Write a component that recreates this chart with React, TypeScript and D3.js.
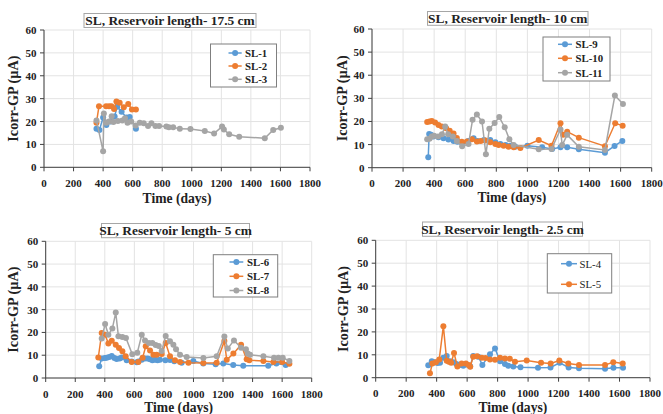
import React from "react";
import * as d3 from "d3";

type Pt = [number, number];

const xTicks = [0, 200, 400, 600, 800, 1000, 1200, 1400, 1600, 1800];
const yTicks = [0, 10, 20, 30, 40, 50, 60];

const titles = [
  "SL, Reservoir length- 17.5 cm",
  "SL, Reservoir length- 10 cm",
  "SL, Reservoir length- 5 cm",
  "SL, Reservoir length- 2.5 cm",
];

const SL1: Pt[] = [[355,16.8],[375,16.3],[400,21.8],[422,18.5],[450,20],[478,22.2],[495,26.5],[525,24.3],[558,21.8],[580,22],[622,16.8]];
const SL2: Pt[] = [[355,19.5],[372,26.7],[420,26.7],[440,26.7],[456,26.7],[474,25.5],[490,28.8],[512,28.2],[540,26.2],[570,27.7],[595,25.3],[622,25.3]];
const SL3: Pt[] = [[355,20.5],[400,7],[405,23.5],[422,19.5],[440,20],[458,22.3],[470,19.8],[500,20.2],[530,20.5],[548,21.4],[565,19.5],[590,20],[620,18.3],[648,19.5],[675,19.3],[704,18],[727,19.3],[754,18],[779,18],[828,17.8],[845,17.5],[874,17.5],[919,16.8],[991,16.7],[1088,15.9],[1151,14.8],[1205,17.8],[1217,16.5],[1253,14.4],[1321,13.4],[1494,12.7],[1551,16.3],[1603,17.3]];

const SL9: Pt[] = [[362,4.5],[368,14.6],[380,14.2],[395,13.5],[428,13.2],[460,12.7],[492,12.2],[525,11.6],[550,11.2],[580,10.8],[620,11.5],[654,12.7],[680,11.5],[720,12],[761,12],[794,11],[826,10.2],[860,9.8],[890,9.5],[922,9.1],[1000,9.5],[1095,8.8],[1159,8.1],[1213,8.8],[1256,8.8],[1331,8],[1499,6.5],[1561,9.4],[1611,11.6]];
const SL10: Pt[] = [[355,19.8],[370,20],[385,20.2],[406,19.5],[428,18.5],[449,17.8],[477,17.1],[500,16],[525,14.8],[546,12.8],[578,11.2],[611,11.3],[643,12.3],[675,11.3],[700,11.5],[730,11.8],[761,11],[794,10.3],[815,9.8],[847,9.5],[879,9.1],[912,8.8],[955,8.5],[1073,12],[1155,9.5],[1213,19.2],[1230,14.2],[1256,15.6],[1331,13],[1499,9.3],[1565,19.2],[1613,18.2]];
const SL11: Pt[] = [[355,12.3],[370,12.5],[385,13.5],[400,13.8],[425,13.5],[450,14.5],[471,17.8],[490,14.5],[520,13.5],[546,11.5],[580,9.3],[621,10.2],[647,20.7],[675,23],[708,20],[733,5.8],[755,16.8],[789,19.3],[819,21.9],[854,17.5],[884,12.3],[912,9.8],[1073,8],[1155,8.1],[1213,16.5],[1224,9.8],[1256,14.2],[1331,9.1],[1499,7.7],[1563,31.2],[1615,27.6]];

const SL6: Pt[] = [[362,5.2],[379,8.6],[400,8.8],[413,8.9],[430,9.2],[447,9.7],[465,8.8],[480,8.3],[500,8.6],[514,9],[548,7.8],[582,7.2],[616,6.9],[627,7.2],[650,8],[672,8.6],[690,8.6],[706,8.2],[722,7.8],[740,8],[757,7.8],[773,8],[810,7.8],[841,7.9],[870,7.3],[920,6.7],[999,7.5],[1066,6.4],[1150,6],[1202,6.4],[1269,5.7],[1337,5.4],[1506,5.4],[1561,6.4],[1624,5.7]];
const SL7: Pt[] = [[356,9],[379,19.8],[402,19],[424,15.1],[447,16.3],[474,14.6],[496,13.2],[519,11.7],[541,9.5],[582,7],[627,7],[656,8.9],[677,13.9],[706,12.1],[729,10.2],[751,10.2],[785,10.5],[812,15.4],[841,9.5],[875,7.8],[909,7],[966,6.7],[1067,6.6],[1157,6.7],[1209,16.2],[1225,8],[1270,10.7],[1322,14.6],[1360,8.2],[1378,7.8],[1473,7.5],[1541,7],[1600,7],[1649,6.3]];
const SL8: Pt[] = [[379,17.3],[402,23.7],[424,19],[451,21.7],[474,28.7],[492,18.3],[519,18],[543,17.6],[586,10.4],[620,11.1],[650,19],[672,16.5],[699,15.4],[722,15.4],[744,14.5],[765,14],[785,11.9],[812,18.4],[841,16.1],[864,14.6],[882,12.6],[909,10.2],[954,9.2],[1067,8.8],[1157,9.5],[1209,18.2],[1232,12.9],[1274,16.5],[1322,13.3],[1355,12.6],[1367,10.7],[1383,10.2],[1473,9.5],[1545,8.9],[1575,8.9],[1604,8.9],[1649,7.5]];

const SL4: Pt[] = [[345,5.4],[368,7.2],[385,6.8],[405,6.4],[422,6.5],[444,8.7],[466,9.5],[488,7.2],[510,6.8],[530,6],[553,5.5],[575,5.2],[597,5.8],[620,5],[640,9.5],[673,9.2],[700,5.6],[750,10.2],[783,12.8],[816,7.2],[848,6],[870,5.2],[903,4.9],[950,4.6],[1065,4.3],[1147,4.5],[1207,6.5],[1266,4.5],[1334,4.1],[1505,3.9],[1560,4.3],[1623,4.3]];
const SL5: Pt[] = [[356,1.9],[372,6.2],[395,6.8],[417,8],[444,22.5],[466,7.4],[480,7],[495,6.5],[514,10.8],[536,4.9],[564,6.2],[592,6.2],[610,5.5],[620,4.8],[640,9.2],[665,9.4],[696,8.7],[720,8.6],[750,8],[783,7.8],[816,8.7],[848,8.4],[880,8.3],[914,7],[991,7.5],[1085,6.5],[1148,6.2],[1205,7.5],[1264,6.2],[1334,5.6],[1505,5.5],[1559,6.8],[1621,6.2]];

const BLUE = "#5B9BD5";
const ORANGE = "#ED7D31";
const GRAY = "#A5A5A5";
const FONT = "'Liberation Serif', 'Times New Roman', serif";

interface Series { name: string; data: Pt[]; color: string }
interface Cfg {
  title: string;
  x0: number; x1: number; yTop: number; yBot: number;
  tb: [number, number, number, number];
  lg: [number, number, number, number];
  rows: number[]; lx0: number; lx1: number; tx: number; lgBold: boolean;
  yLabelX: number; xLabelY: number;
  series: Series[];
}

const panels: Cfg[] = [
  {
    title: titles[0], x0: 44, x1: 310, yTop: 30, yBot: 167.3,
    tb: [84, 13.5, 172, 14], lg: [210.5, 44, 66, 43], rows: [53, 66, 79.3],
    lx0: 228.5, lx1: 241.7, tx: 245, lgBold: true, yLabelX: 13, xLabelY: 198,
    series: [
      { name: "SL-1", data: SL1, color: BLUE },
      { name: "SL-2", data: SL2, color: ORANGE },
      { name: "SL-3", data: SL3, color: GRAY },
    ],
  },
  {
    title: titles[1], x0: 372, x1: 651.7, yTop: 29, yBot: 167.7,
    tb: [427.5, 11.5, 160.5, 13.8], lg: [543, 37, 67, 44], rows: [44.3, 58.3, 72.7],
    lx0: 558, lx1: 572, tx: 575.5, lgBold: true, yLabelX: 342.5, xLabelY: 196.7,
    series: [
      { name: "SL-9", data: SL9, color: BLUE },
      { name: "SL-10", data: SL10, color: ORANGE },
      { name: "SL-11", data: SL11, color: GRAY },
    ],
  },
  {
    title: titles[2], x0: 45.7, x1: 311.7, yTop: 241.3, yBot: 378,
    tb: [101.5, 223.5, 148, 14.2], lg: [213.3, 254.7, 64.4, 42.3], rows: [262, 276.3, 290.5],
    lx0: 229.5, lx1: 243.3, tx: 247, lgBold: true, yLabelX: 13.3, xLabelY: 407,
    series: [
      { name: "SL-6", data: SL6, color: BLUE },
      { name: "SL-7", data: SL7, color: ORANGE },
      { name: "SL-8", data: SL8, color: GRAY },
    ],
  },
  {
    title: titles[3], x0: 375.7, x1: 650, yTop: 240.3, yBot: 377.7,
    tb: [422.5, 222, 160, 14.3], lg: [547.3, 253.7, 64.4, 39.3], rows: [263.7, 284.3],
    lx0: 561, lx1: 577, tx: 579.5, lgBold: false, yLabelX: 343.3, xLabelY: 407,
    series: [
      { name: "SL-4", data: SL4, color: BLUE },
      { name: "SL-5", data: SL5, color: ORANGE },
    ],
  },
];

function Panel({ c }: { c: Cfg }) {
  const x = d3.scaleLinear().domain([0, 1800]).range([c.x0, c.x1]);
  const y = d3.scaleLinear().domain([0, 60]).range([c.yBot, c.yTop]);
  const line = d3.line<Pt>().x((d) => x(d[0])).y((d) => y(d[1]));
  return (
    <g>
      {xTicks.map((t) => (
        <line key={"gx" + t} x1={x(t)} x2={x(t)} y1={c.yTop} y2={c.yBot} stroke="#e3e3e3" strokeWidth={1} />
      ))}
      {yTicks.map((t) => (
        <line key={"gy" + t} x1={c.x0} x2={c.x1} y1={y(t)} y2={y(t)} stroke="#e3e3e3" strokeWidth={1} />
      ))}
      <line x1={c.x0} x2={c.x0} y1={c.yTop} y2={c.yBot} stroke="#404040" strokeWidth={1} />
      <line x1={c.x0} x2={c.x1} y1={c.yBot} y2={c.yBot} stroke="#404040" strokeWidth={1} />
      {xTicks.map((t) => (
        <g key={"tx" + t}>
          <line x1={x(t)} x2={x(t)} y1={c.yBot} y2={c.yBot + 4} stroke="#404040" />
          <text x={x(t)} y={c.yBot + 19.5} textAnchor="middle" fontSize={11} fontWeight="bold" fontFamily={FONT} fill="#222">{t}</text>
        </g>
      ))}
      {yTicks.map((t) => (
        <g key={"ty" + t}>
          <line x1={c.x0 - 4} x2={c.x0} y1={y(t)} y2={y(t)} stroke="#404040" />
          <text x={c.x0 - 7.5} y={y(t) + 4} textAnchor="end" fontSize={11} fontWeight="bold" fontFamily={FONT} fill="#222">{t}</text>
        </g>
      ))}
      <text x={(c.x0 + c.x1) / 2} y={c.xLabelY + 4.8} textAnchor="middle" fontSize={13.6} fontWeight="bold" fontFamily={FONT} fill="#222">Time (days)</text>
      <text transform={`translate(${c.yLabelX + 4.8},${(c.yTop + c.yBot) / 2}) rotate(-90)`} textAnchor="middle" fontSize={14.2} fontWeight="bold" fontFamily={FONT} fill="#222">Icorr-GP (µA)</text>
      {c.series.map((s) => (
        <g key={s.name}>
          <path d={line(s.data) || ""} fill="none" stroke={s.color} strokeWidth={1.5} />
          {s.data.map((d, i) => (
            <circle key={i} cx={x(d[0])} cy={y(d[1])} r={3} fill={s.color} />
          ))}
        </g>
      ))}
      <rect x={c.tb[0]} y={c.tb[1]} width={c.tb[2]} height={c.tb[3]} fill="#fff" stroke="#a6a6a6" strokeWidth={1} />
      <text x={c.tb[0] + c.tb[2] / 2} y={c.tb[1] + c.tb[3] / 2 + 4.6} textAnchor="middle" fontSize={13.4} fontWeight="bold" fontFamily={FONT} fill="#222">{c.title}</text>
      <rect x={c.lg[0]} y={c.lg[1]} width={c.lg[2]} height={c.lg[3]} fill="#fff" stroke="#7f7f7f" strokeWidth={1} />
      {c.series.map((s, i) => (
        <g key={"lg" + s.name}>
          <line x1={c.lx0} x2={c.lx1} y1={c.rows[i]} y2={c.rows[i]} stroke={s.color} strokeWidth={1.5} />
          <circle cx={(c.lx0 + c.lx1) / 2} cy={c.rows[i]} r={3} fill={s.color} />
          <text x={c.tx} y={c.rows[i] + 3.8} fontSize={10.8} fontWeight={c.lgBold ? "bold" : "normal"} fontFamily={FONT} fill="#222">{s.name}</text>
        </g>
      ))}
    </g>
  );
}

export default function App() {
  return (
    <svg width={663} height={414} style={{ position: "absolute", left: 0, top: 0, background: "#fff" }}>
      <rect width={663} height={414} fill="#fff" />
      {panels.map((c, i) => (
        <Panel key={i} c={c} />
      ))}
    </svg>
  );
}
